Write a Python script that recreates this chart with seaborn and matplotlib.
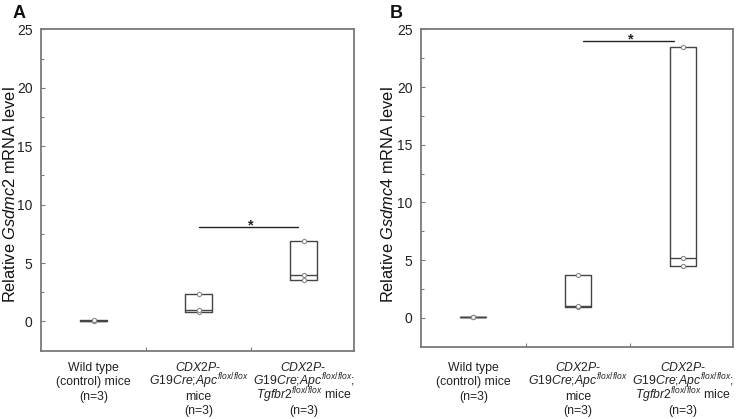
import numpy as np
import pandas as pd
import matplotlib
matplotlib.use("Agg")
import matplotlib.pyplot as plt
import matplotlib.transforms as mtransforms
import seaborn as sns

sns.set_theme(style="white")
plt.rcParams['font.family'] = ['Liberation Sans', 'DejaVu Sans']
plt.rcParams['mathtext.fontset'] = 'custom'
plt.rcParams['mathtext.rm'] = 'Liberation Sans'
plt.rcParams['mathtext.it'] = 'Liberation Sans:italic'
plt.rcParams['mathtext.bf'] = 'Liberation Sans:bold'

# ---- data ----
categories = ["WT", "Apc", "Apc;Tgfbr2"]
tick_label_lines = [
    ["Wild type", "(control) mice", "(n=3)"],
    [r"$\mathit{CDX2P}$-", r"$\mathit{G19Cre;\!Apc}^{\mathit{flox/flox}}$", "mice", "(n=3)"],
    [r"$\mathit{CDX2P}$-", r"$\mathit{G19Cre;\!Apc}^{\mathit{flox/flox}}$;",
     r"$\mathit{Tgfbr2}^{\mathit{flox/flox}}$ mice", "(n=3)"],
]
gsdmc2_wt = [0.0, 0.03, 0.12]
gsdmc2_apc = [0.85, 0.95, 2.35]
gsdmc2_apc_tgf = [3.55, 4.0, 6.85]
gsdmc4_wt = [0.03, 0.06, 0.11]
gsdmc4_apc = [0.95, 1.05, 3.7]
gsdmc4_apc_tgf = [4.45, 5.2, 23.5]

panels = [
    ("A", "Gsdmc2", [gsdmc2_wt, gsdmc2_apc, gsdmc2_apc_tgf], (1.0, 1.95, 8.05)),
    ("B", "Gsdmc4", [gsdmc4_wt, gsdmc4_apc, gsdmc4_apc_tgf], (1.05, 1.92, 23.95)),
]

W, H = 737, 419
fig = plt.figure(figsize=(W / 100, H / 100), dpi=100)
rects = [
    [41 / W, 1 - 350.7 / H, (354 - 41) / W, (350.7 - 29.3) / H],
    [421 / W, 1 - 346.7 / H, (733 - 421) / W, (346.7 - 29.3) / H],
]
letter_x = [13 / W, 390 / W]
ylabel_pos = [(-0.074, 0.484), (-0.08, 0.478)]
line_baselines_px = [370.5, 385, 399.5, 414]

spine_col = "#7a7a7a"
box_col = "#444444"

for (letter, gene, groups, sig), rect, lx, ylp in zip(panels, rects, letter_x, ylabel_pos):
    ax = fig.add_axes(rect)
    df = pd.DataFrame({
        "group": np.repeat(categories, [len(g) for g in groups]),
        "value": np.concatenate(groups),
    })
    # boxes: min-to-max (exclusive quartiles with n=3) with median line
    stats = []
    for cat, g in zip(categories, groups):
        q1, med, q3 = np.percentile(g, [25, 50, 75], method="weibull")
        stats.append(dict(med=med, q1=q1, q3=q3, whislo=q1, whishi=q3,
                          fliers=[], label=cat))
    ax.bxp(stats, positions=range(len(categories)), widths=0.25,
           showcaps=False, showfliers=False, manage_ticks=False,
           boxprops=dict(color=box_col, linewidth=1.0),
           medianprops=dict(color=box_col, linewidth=1.0),
           whiskerprops=dict(color=box_col, linewidth=1.0))
    sns.stripplot(data=df, x="group", y="value", order=categories, ax=ax,
                  jitter=False, size=3.0, color="white", edgecolor="#8a8a8a",
                  linewidth=0.8, zorder=3)

    x0, x1, ysig = sig
    ax.plot([x0, x1], [ysig, ysig], color="#222222", linewidth=1.0)
    ax.text((x0 + x1) / 2 + 0.02, ysig + 0.2, "*", ha="center", va="center",
            fontsize=10.5, fontweight="bold", color="#222222")

    ax.set_xlim(-0.5, 2.48)
    ax.set_ylim(-2.5, 25)
    ax.set_yticks(np.arange(0, 26, 5))
    ax.set_yticks(np.arange(2.5, 25, 5), minor=True)
    ax.set_xticks(range(len(categories)))
    ax.set_xticklabels([""] * len(categories))
    ax.set_xticks([0.5, 1.5], minor=True)
    ax.tick_params(axis="x", which="major", length=0)
    ax.tick_params(axis="x", which="minor", direction="in", length=3,
                   color=spine_col, width=0.8, bottom=True)
    ax.tick_params(axis="y", which="major", direction="in", length=3,
                   color=spine_col, width=0.8, labelsize=10, pad=6,
                   labelcolor="#222222", left=True)
    ax.tick_params(axis="y", which="minor", direction="in", length=2,
                   color=spine_col, width=0.8, left=True)
    ax.set_xlabel("")
    ax.set_ylabel(r"Relative $\mathit{" + gene + r"}$ mRNA level",
                  fontsize=11.8, color="#111111")
    ax.yaxis.set_label_coords(*ylp)
    for sp in ax.spines.values():
        sp.set_color(spine_col)
        sp.set_linewidth(1.3)

    trans = mtransforms.blended_transform_factory(ax.transData, fig.transFigure)
    for i, lines in enumerate(tick_label_lines):
        for line, ypx in zip(lines, line_baselines_px):
            ax.text(i, 1 - ypx / H, line, transform=trans, ha="center",
                    va="baseline", fontsize=8.8, color="#222222", clip_on=False)

    fig.text(lx, 1 - 5 / H, letter, fontsize=13, fontweight="bold",
             ha="left", va="top", color="#111111")

fig.savefig("out.png", dpi=100)
